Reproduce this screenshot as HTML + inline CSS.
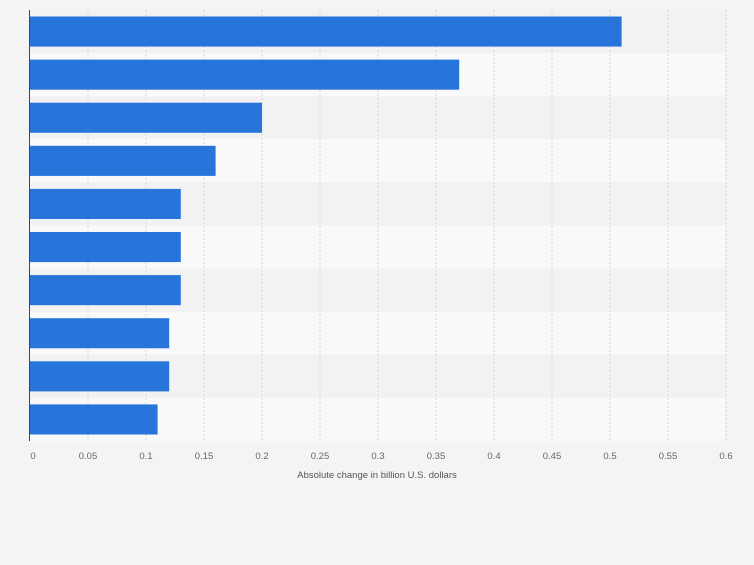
<!DOCTYPE html>
<html><head><meta charset="utf-8"><style>
body{margin:0;background:#f4f4f4;font-family:"Liberation Sans",sans-serif;}
</style></head><body>
<svg id="c" width="754" height="560"></svg>
<script>
const categories=["c1","c2","c3","c4","c5","c6","c7","c8","c9","c10"];
const values=[0.51,0.37,0.2,0.16,0.13,0.13,0.13,0.12,0.12,0.11];
const ticks=[0,0.05,0.1,0.15,0.2,0.25,0.3,0.35,0.4,0.45,0.5,0.55,0.6];
const NS="http://www.w3.org/2000/svg";
const svg=document.getElementById('c');
const x0=30,x1=726,yTop=10,yBottom=441;
const xs=v=>x0+v/0.6*(x1-x0);
const rowH=(yBottom-yTop)/categories.length;
function mk(t,a,p){const e=document.createElementNS(NS,t);for(const k in a)e.setAttribute(k,a[k]);(p||svg).appendChild(e);return e;}
categories.forEach((c,i)=>{
 const r=mk('rect',{x:x0,y:yTop+i*rowH,width:x1-x0,height:rowH,fill:i%2?'#f9f9f9':'#f2f2f2'});
 
 
});
ticks.forEach((t,i)=>{
 if(i>0){const l=mk('line',{x1:xs(t),x2:xs(t),y1:yTop,y2:yBottom,stroke:'#d6d6d6','stroke-dasharray':'2,2'});
 
 }
 const tx=mk('text',{x:xs(t)+(i==0?3:0),y:459,'text-anchor':'middle','font-size':'9.5',fill:'#666'});
 tx.textContent=String(t);
 
 
});
values.forEach((v,i)=>{
 const b=mk('rect',{x:x0,y:yTop+i*rowH+6.5,width:xs(v)-x0,height:rowH-13,fill:'#2775db'});
 
 
});
const ax=mk('line',{x1:29.5,x2:29.5,y1:yTop,y2:yBottom,stroke:'#444','stroke-width':1});


const tt=mk('text',{x:377,y:478,'text-anchor':'middle','font-size':'9.5',fill:'#555'});
tt.textContent='Absolute change in billion U.S. dollars';


</script>
</body></html>
